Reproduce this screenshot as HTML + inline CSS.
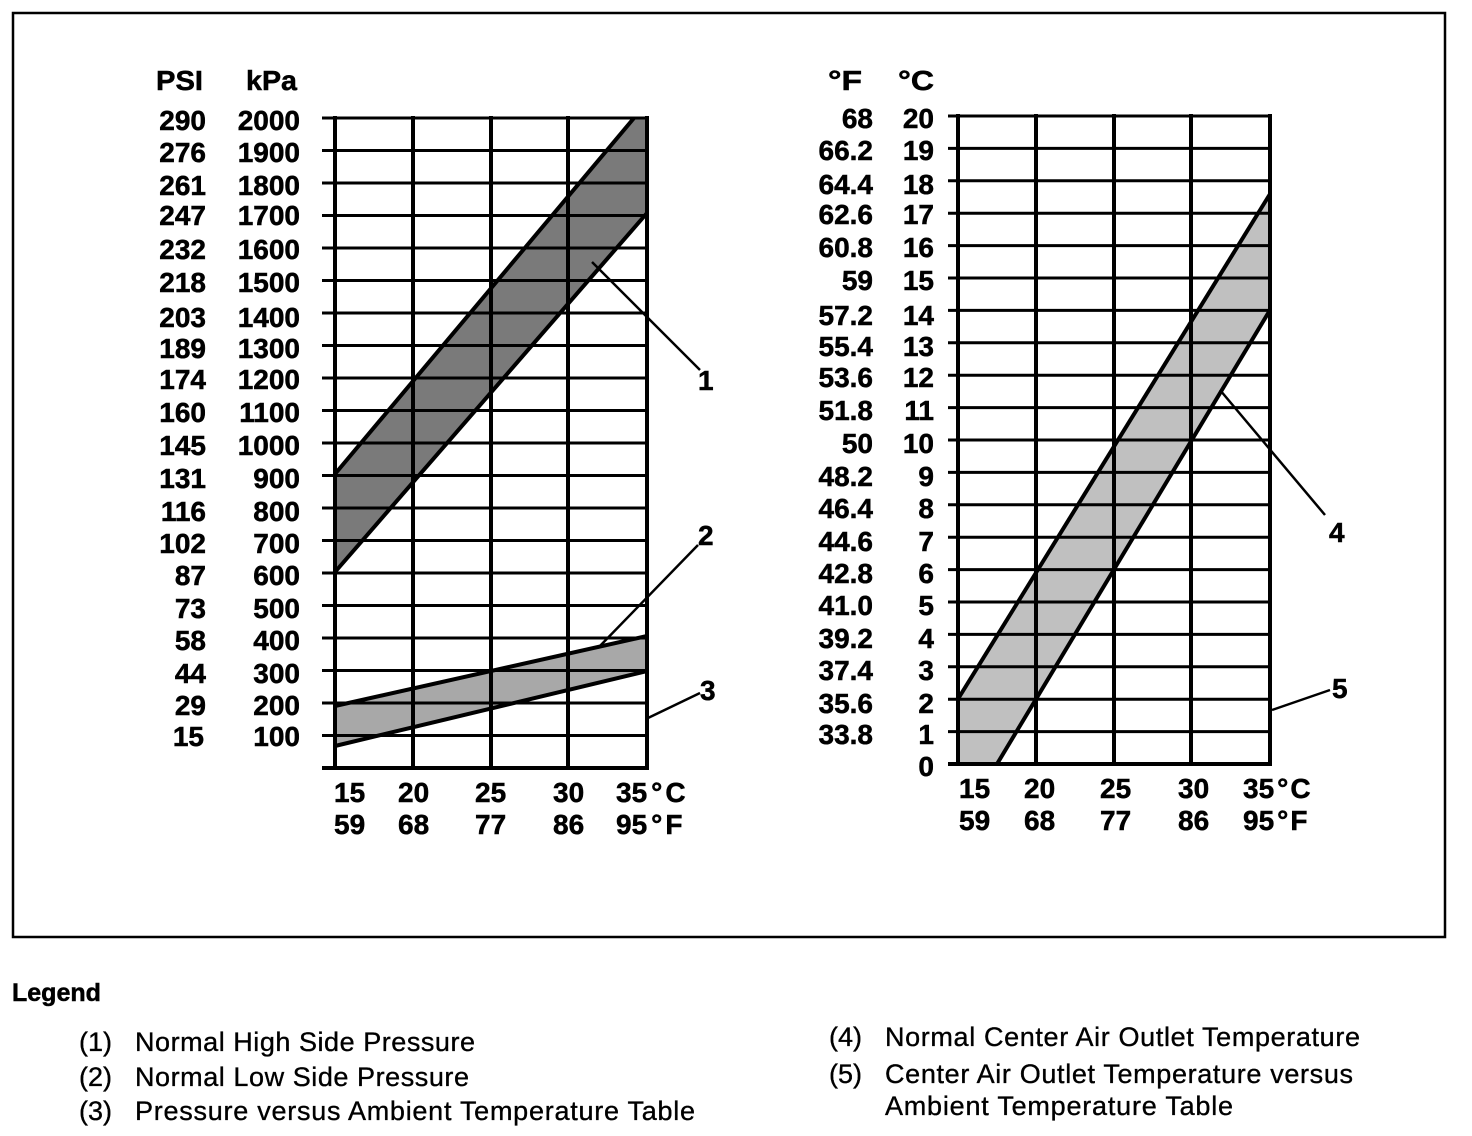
<!DOCTYPE html>
<html><head><meta charset="utf-8"><style>
html,body{margin:0;padding:0;background:#fff;}
svg{display:block;}
.b{font-family:"Liberation Sans",Arial,sans-serif;font-weight:bold;font-size:28px;fill:#000;stroke:#000;stroke-width:0.5;}
.r{font-family:"Liberation Sans",Arial,sans-serif;font-weight:normal;font-size:27px;fill:#000;stroke:#000;stroke-width:0.35;}
</style></head><body>
<svg width="1472" height="1136" viewBox="0 0 1472 1136" xmlns="http://www.w3.org/2000/svg">
<rect x="0" y="0" width="1472" height="1136" fill="#fff"/>
<rect x="13" y="13" width="1432" height="924" fill="none" stroke="#000" stroke-width="2.5"/>

<!-- LEFT CHART bands -->
<polygon points="335,474 632,118 647,118 647,213 335,572" fill="#7a7a7a"/>
<polygon points="335,706 647,636 647,671 335,746" fill="#a8a8a8"/>

<!-- left grid -->
<g stroke="#000" stroke-width="3">
<line x1="322" y1="118" x2="648" y2="118"/>
<line x1="322" y1="150.5" x2="648" y2="150.5"/>
<line x1="322" y1="183" x2="648" y2="183"/>
<line x1="322" y1="215.5" x2="648" y2="215.5"/>
<line x1="322" y1="248" x2="648" y2="248"/>
<line x1="322" y1="280.5" x2="648" y2="280.5"/>
<line x1="322" y1="313" x2="648" y2="313"/>
<line x1="322" y1="345.5" x2="648" y2="345.5"/>
<line x1="322" y1="378" x2="648" y2="378"/>
<line x1="322" y1="410.5" x2="648" y2="410.5"/>
<line x1="322" y1="443" x2="648" y2="443"/>
<line x1="322" y1="475.5" x2="648" y2="475.5"/>
<line x1="322" y1="508" x2="648" y2="508"/>
<line x1="322" y1="540.5" x2="648" y2="540.5"/>
<line x1="322" y1="573" x2="648" y2="573"/>
<line x1="322" y1="605.5" x2="648" y2="605.5"/>
<line x1="322" y1="638" x2="648" y2="638"/>
<line x1="322" y1="670.5" x2="648" y2="670.5"/>
<line x1="322" y1="703" x2="648" y2="703"/>
<line x1="322" y1="735.5" x2="648" y2="735.5"/>
</g>
<line x1="322" y1="768" x2="649" y2="768" stroke="#000" stroke-width="4"/>
<g stroke="#000" stroke-width="4">
<line x1="335" y1="116" x2="335" y2="770"/>
<line x1="413" y1="116" x2="413" y2="770"/>
<line x1="491" y1="116" x2="491" y2="770"/>
<line x1="568" y1="116" x2="568" y2="770"/>
<line x1="647" y1="116" x2="647" y2="770"/>
</g>
<!-- band edges -->
<g stroke="#000" stroke-width="4" fill="none">
<line x1="335" y1="474" x2="634" y2="118"/>
<line x1="335" y1="572" x2="647" y2="213"/>
<line x1="335" y1="706" x2="647" y2="636"/>
<line x1="335" y1="746" x2="647" y2="671"/>
</g>
<!-- leaders -->
<g stroke="#000" stroke-width="2.5">
<line x1="592" y1="262" x2="700" y2="370"/>
<line x1="598" y1="648" x2="698" y2="545"/>
<line x1="648" y1="718" x2="700" y2="693"/>
</g>
<text class="b" x="698" y="390">1</text>
<text class="b" x="698" y="545">2</text>
<text class="b" x="700" y="700">3</text>

<!-- left labels -->
<text class="b" x="156" y="90" textLength="47" lengthAdjust="spacingAndGlyphs">PSI</text>
<text class="b" x="246" y="90" textLength="51" lengthAdjust="spacingAndGlyphs">kPa</text>
<g class="b" text-anchor="end">
<text x="206" y="130">290</text><text x="300" y="130">2000</text>
<text x="206" y="162">276</text><text x="300" y="162">1900</text>
<text x="206" y="195">261</text><text x="300" y="195">1800</text>
<text x="206" y="225">247</text><text x="300" y="225">1700</text>
<text x="206" y="259">232</text><text x="300" y="259">1600</text>
<text x="206" y="292">218</text><text x="300" y="292">1500</text>
<text x="206" y="327">203</text><text x="300" y="327">1400</text>
<text x="206" y="358">189</text><text x="300" y="358">1300</text>
<text x="206" y="389">174</text><text x="300" y="389">1200</text>
<text x="206" y="422">160</text><text x="300" y="422">1100</text>
<text x="206" y="455">145</text><text x="300" y="455">1000</text>
<text x="206" y="488">131</text><text x="300" y="488">900</text>
<text x="206" y="521">116</text><text x="300" y="521">800</text>
<text x="206" y="553">102</text><text x="300" y="553">700</text>
<text x="206" y="585">87</text><text x="300" y="585">600</text>
<text x="206" y="618">73</text><text x="300" y="618">500</text>
<text x="206" y="650">58</text><text x="300" y="650">400</text>
<text x="206" y="683">44</text><text x="300" y="683">300</text>
<text x="206" y="715">29</text><text x="300" y="715">200</text>
<text x="204" y="746">15</text><text x="300" y="746">100</text>
</g>
<g class="b">
<text x="334" y="802">15</text>
<text x="398" y="802">20</text>
<text x="475" y="802">25</text>
<text x="553" y="802">30</text>
<text x="616" y="802">35<tspan dx="4">°</tspan><tspan dx="3">C</tspan></text>
<text x="334" y="834">59</text>
<text x="398" y="834">68</text>
<text x="475" y="834">77</text>
<text x="553" y="834">86</text>
<text x="616" y="834">95<tspan dx="4">°</tspan><tspan dx="3">F</tspan></text>
</g>

<!-- RIGHT CHART band -->
<polygon points="958,699 1270,194 1270,310 997,764 958,764" fill="#c0c0c0"/>
<g stroke="#000" stroke-width="3">
<line x1="948" y1="116" x2="1271" y2="116"/>
<line x1="948" y1="148.4" x2="1271" y2="148.4"/>
<line x1="948" y1="180.8" x2="1271" y2="180.8"/>
<line x1="948" y1="213.2" x2="1271" y2="213.2"/>
<line x1="948" y1="245.6" x2="1271" y2="245.6"/>
<line x1="948" y1="278" x2="1271" y2="278"/>
<line x1="948" y1="310.4" x2="1271" y2="310.4"/>
<line x1="948" y1="342.8" x2="1271" y2="342.8"/>
<line x1="948" y1="375.2" x2="1271" y2="375.2"/>
<line x1="948" y1="407.6" x2="1271" y2="407.6"/>
<line x1="948" y1="440" x2="1271" y2="440"/>
<line x1="948" y1="472.4" x2="1271" y2="472.4"/>
<line x1="948" y1="504.8" x2="1271" y2="504.8"/>
<line x1="948" y1="537.2" x2="1271" y2="537.2"/>
<line x1="948" y1="569.6" x2="1271" y2="569.6"/>
<line x1="948" y1="602" x2="1271" y2="602"/>
<line x1="948" y1="634.4" x2="1271" y2="634.4"/>
<line x1="948" y1="666.8" x2="1271" y2="666.8"/>
<line x1="948" y1="699.2" x2="1271" y2="699.2"/>
<line x1="948" y1="731.6" x2="1271" y2="731.6"/>
</g>
<line x1="948" y1="764" x2="1272" y2="764" stroke="#000" stroke-width="4"/>
<g stroke="#000" stroke-width="4">
<line x1="958" y1="114" x2="958" y2="766"/>
<line x1="1036" y1="114" x2="1036" y2="766"/>
<line x1="1114" y1="114" x2="1114" y2="766"/>
<line x1="1191" y1="114" x2="1191" y2="766"/>
<line x1="1270" y1="114" x2="1270" y2="766"/>
</g>
<g stroke="#000" stroke-width="4">
<line x1="958" y1="699" x2="1270" y2="194"/>
<line x1="997" y1="764" x2="1270" y2="310"/>
</g>
<g stroke="#000" stroke-width="2.5">
<line x1="1220" y1="390" x2="1325" y2="515"/>
<line x1="1272" y1="710" x2="1330" y2="690"/>
</g>
<text class="b" x="1329" y="542">4</text>
<text class="b" x="1332" y="698">5</text>

<text class="b" x="828" y="90" textLength="34" lengthAdjust="spacingAndGlyphs">°F</text>
<text class="b" x="898" y="90" textLength="36" lengthAdjust="spacingAndGlyphs">°C</text>
<g class="b" text-anchor="end">
<text x="873" y="128">68</text><text x="934" y="128">20</text>
<text x="873" y="160">66.2</text><text x="934" y="160">19</text>
<text x="873" y="194">64.4</text><text x="934" y="194">18</text>
<text x="873" y="224">62.6</text><text x="934" y="224">17</text>
<text x="873" y="257">60.8</text><text x="934" y="257">16</text>
<text x="873" y="290">59</text><text x="934" y="290">15</text>
<text x="873" y="325">57.2</text><text x="934" y="325">14</text>
<text x="873" y="356">55.4</text><text x="934" y="356">13</text>
<text x="873" y="387">53.6</text><text x="934" y="387">12</text>
<text x="873" y="420">51.8</text><text x="934" y="420">11</text>
<text x="873" y="453">50</text><text x="934" y="453">10</text>
<text x="873" y="486">48.2</text><text x="934" y="486">9</text>
<text x="873" y="518">46.4</text><text x="934" y="518">8</text>
<text x="873" y="551">44.6</text><text x="934" y="551">7</text>
<text x="873" y="583">42.8</text><text x="934" y="583">6</text>
<text x="873" y="615">41.0</text><text x="934" y="615">5</text>
<text x="873" y="648">39.2</text><text x="934" y="648">4</text>
<text x="873" y="680">37.4</text><text x="934" y="680">3</text>
<text x="873" y="713">35.6</text><text x="934" y="713">2</text>
<text x="873" y="744">33.8</text><text x="934" y="744">1</text>
<text x="934" y="776">0</text>
</g>
<g class="b">
<text x="959" y="798">15</text>
<text x="1024" y="798">20</text>
<text x="1100" y="798">25</text>
<text x="1178" y="798">30</text>
<text x="1243" y="798">35<tspan dx="3">°</tspan><tspan dx="2">C</tspan></text>
<text x="959" y="830">59</text>
<text x="1024" y="830">68</text>
<text x="1100" y="830">77</text>
<text x="1178" y="830">86</text>
<text x="1243" y="830">95<tspan dx="3">°</tspan><tspan dx="2">F</tspan></text>
</g>

<!-- LEGEND -->
<text class="b" x="12" y="1001" style="font-size:25px">Legend</text>
<g class="r">
<text x="79" y="1051">(1)</text>
<text x="135" y="1051" textLength="340" lengthAdjust="spacing">Normal High Side Pressure</text>
<text x="79" y="1086">(2)</text>
<text x="135" y="1086" textLength="334" lengthAdjust="spacing">Normal Low Side Pressure</text>
<text x="79" y="1120">(3)</text>
<text x="135" y="1120" textLength="560" lengthAdjust="spacing">Pressure versus Ambient Temperature Table</text>
<text x="829" y="1046">(4)</text>
<text x="885" y="1046" textLength="475" lengthAdjust="spacing">Normal Center Air Outlet Temperature</text>
<text x="829" y="1083">(5)</text>
<text x="885" y="1083" textLength="468" lengthAdjust="spacing">Center Air Outlet Temperature versus</text>
<text x="885" y="1115" textLength="348" lengthAdjust="spacing">Ambient Temperature Table</text>
</g>
</svg>
</body></html>
